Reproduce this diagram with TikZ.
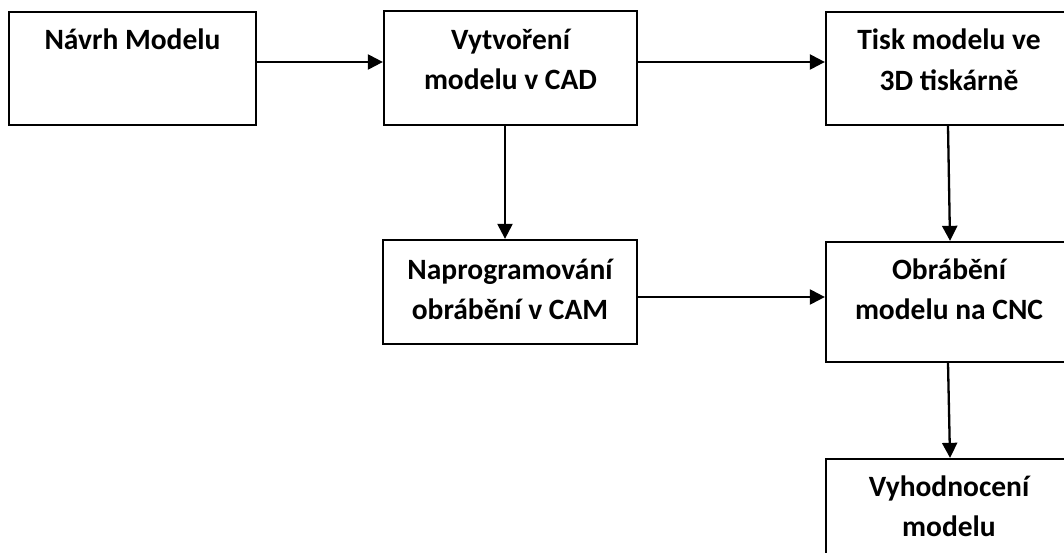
\documentclass[tikz,border=0pt]{standalone}
\usepackage{fontspec}
\setmainfont{Carlito}
\usetikzlibrary{arrows.meta}
\tikzset{
  box/.style={draw=black, line width=2.3pt, rectangle, inner sep=0pt, fill=white},
  lbl/.style={anchor=north, inner sep=0pt, align=center,
    font=\fontsize{29.5}{40.5}\selectfont\bfseries},
  arr/.style={line width=2.3pt, -{Triangle[length=15pt,width=15pt]}}
}
\begin{document}
\begin{tikzpicture}[x=1pt, y=-1pt]
\useasboundingbox (0,0) rectangle (1064,553);
\clip (0,0) rectangle (1064,553);
\fill[white] (0,0) rectangle (1064,553);
% boxes
\node[box, minimum width=247pt, minimum height=113pt] (b1) at (132.5,68.5) {};
\node[box, minimum width=253pt, minimum height=114pt] (b2) at (510.5,68) {};
\node[box, minimum width=246pt, minimum height=113pt] (b3) at (949,68.5) {};
\node[box, minimum width=254pt, minimum height=104pt] (b4) at (510,292) {};
\node[box, minimum width=246pt, minimum height=120pt] (b5) at (949,302) {};
\node[box, minimum width=246pt, minimum height=120pt] (b6) at (949,519) {};
% labels
\node[lbl] (t1) at ([yshift=-8.5pt]b1.north) {\rule{0pt}{30pt}Návrh Modelu};
\node[lbl] (t2) at ([yshift=-9pt]b2.north) {\rule{0pt}{30pt}Vytvoření\\modelu v CAD};
\node[lbl] (t3) at ([yshift=-8.5pt]b3.north) {\rule{0pt}{30pt}Tisk modelu ve\\3D tiskárně};
\node[lbl] (t4) at ([yshift=-10pt]b4.north) {\rule{0pt}{30pt}Naprogramování\\obrábění v CAM};
\node[lbl] (t5) at ([yshift=-8pt]b5.north) {\rule{0pt}{30pt}Obrábění\\modelu na CNC};
\node[lbl] (t6) at ([yshift=-8pt]b6.north) {\rule{0pt}{30pt}Vyhodnocení\\modelu};
% connectors
\draw[arr] ([yshift=6.5pt]b1.east) -- ([yshift=6.5pt]b1.east -| b2.west);
\draw[arr] ([yshift=6pt]b2.east) -- ([yshift=6pt]b2.east -| b3.west);
\draw[arr] ([xshift=-5.5pt]b2.south) -- ([xshift=-5.5pt]b2.south |- b4.north);
\draw[arr] ([xshift=-1pt]b3.south) -- ([xshift=1pt]b5.north);
\draw[arr] ([yshift=-5pt]b4.east) -- ([yshift=-5pt]b4.east -| b5.west);
\draw[arr] ([xshift=-1pt]b5.south) -- ([xshift=1pt]b6.north);
\end{tikzpicture}
\end{document}
